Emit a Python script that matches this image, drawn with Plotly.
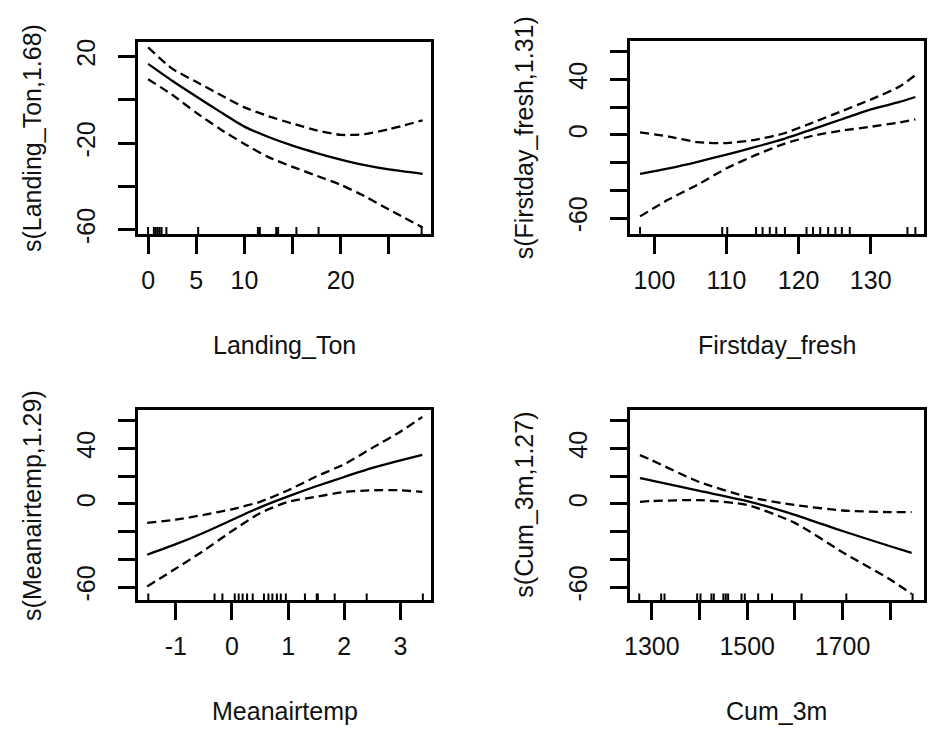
import plotly.graph_objects as go

# Landing_Ton panel
landing_x = [0, 2.5, 5, 7.5, 10, 12.5, 15, 17.5, 20, 22.5, 25, 28.5]
landing_fit = [16.6, 8.8, 1.5, -5.6, -12.4, -17.2, -21.2, -24.6, -27.6, -30.2, -32.2, -34.2]
landing_upper = [24.2, 14.4, 8.3, 2.3, -3.5, -7.6, -11.0, -14.1, -16.2, -15.9, -13.6, -9.5]
landing_lower = [9.5, 2.3, -6.0, -13.6, -20.4, -26.5, -31.0, -35.1, -39.3, -44.6, -50.7, -59.0]
landing_rug = [0.0, 0.6, 0.8, 1.0, 1.2, 1.4, 1.9, 5.2, 11.4, 11.6, 13.3, 13.5, 15.4, 17.7, 28.4]

# Firstday_fresh panel
fresh_x = [98, 102, 106, 110, 114, 118, 122, 126, 130, 134, 136.2]
fresh_fit = [-28.1, -24.1, -19.4, -14.2, -8.7, -2.8, 4.2, 11.3, 18.4, 23.8, 27.4]
fresh_upper = [1.9, -1.2, -5.2, -5.9, -3.5, 1.2, 9.0, 17.2, 25.5, 34.9, 43.2]
fresh_lower = [-58.8, -46.5, -35.9, -24.1, -14.6, -6.4, -0.5, 3.1, 5.9, 9.0, 11.3]
fresh_rug = [98.0, 109.4, 110.1, 114.1, 115.0, 116.0, 116.9, 118.1, 121.1, 122.0,
             123.0, 124.1, 125.1, 126.0, 127.1, 135.1, 136.2]

# Meanairtemp panel
temp_x = [-1.51, -1, -0.5, 0, 0.5, 1, 1.5, 2, 2.5, 3, 3.39]
temp_fit = [-36.6, -29.0, -20.7, -11.5, -2.4, 5.5, 12.8, 19.5, 26.0, 31.5, 35.5]
temp_upper = [-13.6, -11.3, -7.8, -3.8, 1.6, 9.9, 19.8, 28.7, 40.5, 52.2, 62.8]
temp_lower = [-59.5, -46.6, -33.6, -19.5, -6.6, 1.6, 5.2, 8.7, 9.9, 9.9, 8.7]
temp_rug = [-1.49, -0.31, -0.17, 0.05, 0.12, 0.19, 0.27, 0.37, 0.57, 0.65, 0.72,
            0.80, 0.87, 0.96, 1.30, 1.51, 1.53, 1.83, 2.40, 3.40]

# Cum_3m panel
cum_x = [1275, 1300, 1400, 1500, 1600, 1700, 1800, 1845]
cum_fit = [18.6, 16.9, 9.4, 2.1, -7.8, -19.5, -30.5, -35.3]
cum_upper = [35.3, 31.5, 15.8, 5.2, -0.7, -4.7, -5.9, -5.9]
cum_lower = [1.6, 2.1, 2.8, -0.7, -13.6, -34.8, -54.5, -64.9]
cum_rug = [1273.5, 1319.5, 1326.5, 1395, 1402, 1425, 1430, 1450, 1455, 1460,
           1488, 1495, 1523, 1552, 1614, 1708, 1847]

# page body has an 8px margin, so the figure is sized to fit inside it
PAD = 8
W, H = 935 - 2 * PAD, 746 - 2 * PAD


def dom(left, right, top, bottom):
    # pixel box in the 935x746 window -> paper domains
    return ([(left - PAD) / W, (right - PAD) / W],
            [1 - (bottom - PAD) / H, 1 - (top - PAD) / H])


panels = [
    dict(x=landing_x, fit=landing_fit, up=landing_upper, lo=landing_lower, rug=landing_rug,
         xtitle="Landing_Ton", ytitle="s(Landing_Ton,1.68)",
         box=dom(133, 428, 40, 235),
         xrange=[-1.03, 29.4], yrange=[-62.0, 26.5],
         xticks=[0, 5, 10, 15, 20, 25], xtext=["0", "5", "10", "", "20", ""],
         yticks=[-60, -40, -20, 0, 20], ytext=["-60", "", "-20", "", "20"]),
    dict(x=fresh_x, fit=fresh_fit, up=fresh_upper, lo=fresh_lower, rug=fresh_rug,
         xtitle="Firstday_fresh", ytitle="s(Firstday_fresh,1.31)",
         box=dom(628, 924, 39, 235),
         xrange=[96.6, 137.4], yrange=[-71.5, 67.5],
         xticks=[100, 110, 120, 130], xtext=["100", "110", "120", "130"],
         yticks=[-60, -40, -20, 0, 20, 40, 60], ytext=["-60", "", "", "0", "", "40", ""]),
    dict(x=temp_x, fit=temp_fit, up=temp_upper, lo=temp_lower, rug=temp_rug,
         xtitle="Meanairtemp", ytitle="s(Meanairtemp,1.29)",
         box=dom(133, 428, 414, 608),
         xrange=[-1.67, 3.55], yrange=[-69.5, 68.0],
         xticks=[-1, 0, 1, 2, 3], xtext=["-1", "0", "1", "2", "3"],
         yticks=[-60, -40, -20, 0, 20, 40, 60], ytext=["-60", "", "", "0", "", "40", ""]),
    dict(x=cum_x, fit=cum_fit, up=cum_upper, lo=cum_lower, rug=cum_rug,
         xtitle="Cum_3m", ytitle="s(Cum_3m,1.27)",
         box=dom(628, 924, 414, 608),
         xrange=[1254, 1871], yrange=[-69.5, 68.0],
         xticks=[1300, 1400, 1500, 1600, 1700, 1800], xtext=["1300", "", "1500", "", "1700", ""],
         yticks=[-60, -40, -20, 0, 20, 40, 60], ytext=["-60", "", "", "0", "", "40", ""]),
]

FONT = "Liberation Sans, Arial, sans-serif"
INK = "#111111"

fig = go.Figure()
shapes = []
annotations = []
layout = {}

for i, p in enumerate(panels):
    n = "" if i == 0 else str(i + 1)
    xa, ya = "x" + n, "y" + n
    xdom, ydom = p["box"]

    for ys, dash in [(p["fit"], "solid"), (p["up"], "9px,5px"), (p["lo"], "9px,5px")]:
        fig.add_trace(go.Scatter(
            x=p["x"], y=ys, xaxis=xa, yaxis=ya, mode="lines",
            line=dict(color="black", width=2.3, dash=dash, shape="spline", smoothing=0.6),
            showlegend=False, hoverinfo="skip"))

    # rug along the bottom of the box
    for r in p["rug"]:
        shapes.append(dict(type="line", xref=xa, yref=ya + " domain",
                           x0=r, x1=r, y0=0, y1=0.036,
                           line=dict(color="black", width=2)))

    axis_common = dict(showline=True, mirror=True, linecolor="black", linewidth=2.5,
                       ticks="outside", ticklen=17, tickwidth=2.5, tickcolor="black",
                       showgrid=False, zeroline=False, tickmode="array",
                       tickfont=dict(family=FONT, size=25, color=INK))
    layout["xaxis" + n] = dict(axis_common, domain=xdom, range=p["xrange"],
                               anchor=ya, tickvals=p["xticks"], ticktext=p["xtext"],
                               ticklabelstandoff=5)
    layout["yaxis" + n] = dict(axis_common, domain=ydom, range=p["yrange"],
                               anchor=xa, tickvals=p["yticks"], ticktext=p["ytext"],
                               tickangle=-90, ticklabelstandoff=13)

    xc = (xdom[0] + xdom[1]) / 2
    yc = (ydom[0] + ydom[1]) / 2
    annotations.append(dict(text=p["xtitle"], xref="paper", yref="paper",
                            x=xc, y=ydom[0] - 113 / H, xanchor="center", yanchor="middle",
                            showarrow=False, font=dict(family=FONT, size=25, color=INK)))
    annotations.append(dict(text=p["ytitle"], xref="paper", yref="paper",
                            x=xdom[0] - 107 / W, y=yc, xanchor="center", yanchor="middle",
                            textangle=-90, showarrow=False,
                            font=dict(family=FONT, size=25, color=INK)))

fig.update_layout(**layout)
fig.update_layout(
    width=W, height=H,
    margin=dict(l=0, r=0, t=0, b=0),
    paper_bgcolor="white", plot_bgcolor="white",
    shapes=shapes, annotations=annotations,
    showlegend=False,
)

fig.write_html("out.html")
